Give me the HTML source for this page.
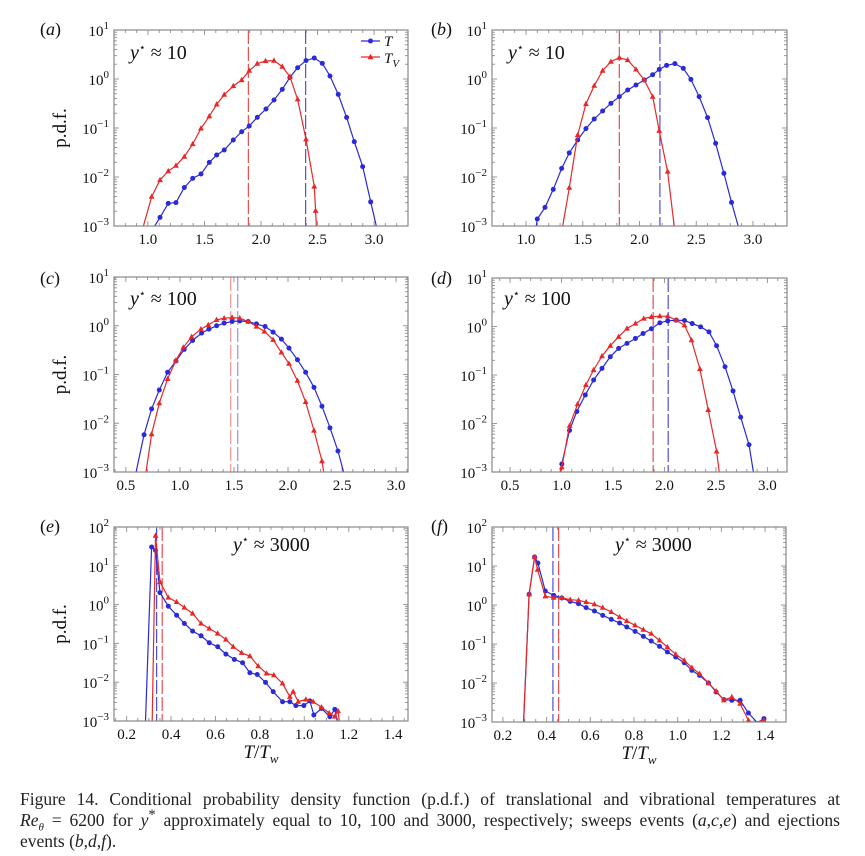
<!DOCTYPE html>
<html><head><meta charset="utf-8">
<style>
html,body{margin:0;padding:0;background:#fff;}
svg{display:block;}
text{font-family:"Liberation Serif",serif;fill:#111;}
#caption{position:absolute;left:20px;top:789px;width:820px;font-family:"Liberation Serif",serif;font-size:17.5px;line-height:21px;color:#222;}
#caption div{white-space:nowrap;}
#caption .j{text-align:justify;text-align-last:justify;white-space:normal;}
</style></head>
<body>
<svg id="fig" width="865" height="856" viewBox="0 0 865 856" xmlns="http://www.w3.org/2000/svg"></svg>
<div id="caption">
<div class="j">Figure 14. Conditional probability density function (p.d.f.) of translational and vibrational temperatures at</div>
<div class="j"><i>Re<sub style="font-size:11px;line-height:0">θ</sub></i> = 6200 for <i>y</i><sup style="line-height:0">*</sup> approximately equal to 10, 100 and 3000, respectively; sweeps events (<i>a</i>,<i>c</i>,<i>e</i>) and ejections</div>
<div>events (<i>b</i>,<i>d</i>,<i>f</i>).</div>
</div>
<script>
// ---- data: panel (a) ----
const aTx=[1.06,1.107,1.18,1.248,1.322,1.396,1.469,1.543,1.608,1.675,1.755,1.829,1.896,1.967,2.044,2.115,2.188,2.256,2.324,2.398,2.471,2.542,2.61,2.683,2.757,2.825,2.899,2.97,3.02];
const aTy=[0.001,0.0015,0.0029,0.003,0.0061,0.0094,0.0115,0.0199,0.0281,0.0356,0.0569,0.084,0.11,0.165,0.244,0.372,0.615,1.08,1.7,2.37,2.68,2.09,1.15,0.486,0.165,0.0526,0.0163,0.0031,0.001];
const aVx=[0.96,1.033,1.107,1.18,1.248,1.322,1.396,1.469,1.543,1.608,1.675,1.755,1.829,1.896,1.967,2.04,2.115,2.188,2.256,2.324,2.398,2.471,2.483,2.49];
const aVy=[0.001,0.00397,0.0087,0.0132,0.017,0.026,0.047,0.098,0.173,0.304,0.479,0.72,0.954,1.48,2.06,2.33,2.37,1.79,1.12,0.385,0.0587,0.0064,0.00205,0.001];
const aMeans=[2.395,1.888];
// ---- data: panel (b) ----
const bTx=[1.09,1.099,1.167,1.24,1.314,1.381,1.455,1.528,1.601,1.675,1.748,1.822,1.896,1.969,2.042,2.116,2.174,2.239,2.312,2.386,2.453,2.526,2.6,2.671,2.744,2.811,2.87];
const bTy=[0.001,0.00139,0.0024,0.0056,0.015,0.031,0.057,0.097,0.153,0.222,0.319,0.436,0.597,0.755,0.955,1.22,1.57,1.9,2.06,1.65,0.98,0.436,0.163,0.0487,0.0119,0.00304,0.001];
const bVx=[1.323,1.381,1.455,1.528,1.601,1.675,1.748,1.822,1.896,1.969,2.042,2.116,2.174,2.248,2.306];
const bVy=[0.001,0.00605,0.072,0.309,0.731,1.48,2.26,2.72,2.44,1.57,0.955,0.436,0.088,0.0129,0.001];
const bMeans=[2.18,1.822];
// ---- data: panel (c) ----
const cTx=[0.594,0.668,0.738,0.809,0.886,0.963,1.04,1.117,1.2,1.268,1.339,1.409,1.483,1.554,1.631,1.708,1.788,1.862,1.939,2.009,2.087,2.163,2.24,2.314,2.388,2.462,2.514];
const cTy=[0.001,0.0058,0.0197,0.048,0.111,0.189,0.327,0.499,0.706,0.851,1.0,1.13,1.22,1.26,1.22,1.09,0.964,0.74,0.532,0.348,0.201,0.111,0.0545,0.0223,0.00805,0.0027,0.001];
const cVx=[0.686,0.738,0.809,0.886,0.963,1.031,1.108,1.194,1.262,1.339,1.409,1.483,1.554,1.631,1.708,1.782,1.862,1.939,2.009,2.087,2.163,2.24,2.314,2.33];
const cVy=[0.001,0.00598,0.0258,0.081,0.195,0.359,0.593,0.851,1.04,1.32,1.43,1.47,1.43,1.22,0.964,0.762,0.515,0.284,0.167,0.0747,0.0274,0.0071,0.00167,0.001];
const cMeans=[1.535,1.47];
// ---- data: panel (d) ----
const dTx=[0.987,1.003,1.078,1.149,1.231,1.312,1.393,1.474,1.555,1.636,1.718,1.792,1.873,1.955,2.032,2.114,2.195,2.269,2.351,2.432,2.506,2.588,2.666,2.74,2.821,2.864];
const dTy=[0.001,0.00146,0.0072,0.0177,0.0388,0.079,0.137,0.238,0.353,0.448,0.567,0.718,0.9,1.19,1.31,1.35,1.33,1.15,0.985,0.776,0.401,0.148,0.0469,0.0135,0.00365,0.001];
const dVx=[0.987,1.003,1.078,1.156,1.237,1.312,1.393,1.474,1.555,1.636,1.718,1.799,1.873,1.955,2.032,2.114,2.195,2.263,2.344,2.425,2.506,2.532];
const dVy=[0.001,0.00125,0.00895,0.025,0.0624,0.127,0.245,0.401,0.614,0.91,1.15,1.46,1.58,1.63,1.63,1.35,1.06,0.523,0.133,0.0191,0.00266,0.001];
const dMeans=[2.036,1.89];
// ---- data: panel (e) ----
const eTx=[0.285,0.3125,0.33,0.35,0.3875,0.425,0.46,0.497,0.535,0.572,0.61,0.647,0.685,0.722,0.755,0.788,0.8255,0.86,0.902,0.935,0.962,0.998,1.025,1.043,1.0775,1.115,1.1375,1.148];
const eTy=[0.001,30.5,25,2.04,0.91,0.533,0.326,0.207,0.157,0.104,0.0818,0.053,0.0386,0.0317,0.0175,0.0158,0.0099,0.0057,0.00314,0.00314,0.0025,0.0025,0.0033,0.00143,0.0021,0.00129,0.002,0.001];
const eVx=[0.315,0.33,0.35,0.3875,0.425,0.46,0.497,0.535,0.572,0.61,0.647,0.68,0.7175,0.755,0.7925,0.83,0.863,0.902,0.935,0.95,0.9725,1.007,1.04,1.0775,1.112,1.1375,1.152,1.157];
const eVy=[0.001,60,3.85,1.52,1.17,0.84,0.59,0.326,0.242,0.18,0.126,0.082,0.0573,0.047,0.026,0.0168,0.0152,0.0093,0.0042,0.0057,0.00315,0.0036,0.00315,0.00225,0.0016,0.0013,0.0018,0.001];
const eMeans=[0.335,0.36];
// ---- data: panel (f) ----
const fTx=[0.2945,0.32,0.345,0.36,0.394,0.432,0.47,0.508,0.546,0.581,0.619,0.657,0.696,0.734,0.767,0.805,0.843,0.879,0.917,0.953,0.991,1.03,1.065,1.1,1.141,1.176,1.212,1.248,1.286,1.324,1.362,1.37,1.395,1.405];
const fTy=[0.001,1.88,17,11.9,2.29,1.77,1.51,1.24,1.08,0.855,0.7,0.543,0.429,0.345,0.273,0.211,0.157,0.119,0.087,0.0624,0.0464,0.0332,0.0211,0.0157,0.01,0.00588,0.00374,0.0036,0.0036,0.0017,0.001,0.001,0.00122,0.001];
const fVx=[0.2945,0.32,0.345,0.3586,0.394,0.432,0.47,0.508,0.546,0.581,0.619,0.657,0.696,0.734,0.767,0.805,0.843,0.879,0.917,0.953,0.991,1.03,1.065,1.1,1.141,1.176,1.212,1.248,1.286,1.324,1.335,1.36,1.395,1.405];
const fVy=[0.001,1.88,17,8.05,1.67,1.54,1.54,1.37,1.32,1.19,1.04,0.855,0.663,0.492,0.389,0.301,0.233,0.184,0.124,0.0837,0.0544,0.0381,0.0247,0.0173,0.01,0.0062,0.0036,0.0044,0.00295,0.0011,0.001,0.001,0.0011,0.001];
const fMeans=[0.429,0.455];
// ---- axis tick values ----
const xTicksAB=[1.0,1.5,2.0,2.5,3.0];
const xTicksCD=[0.5,1.0,1.5,2.0,2.5,3.0];
const xTicksEF=[0.2,0.4,0.6,0.8,1.0,1.2,1.4];
const yDecABCD=[-3,-2,-1,0,1];
const yDecEF=[-3,-2,-1,0,1,2];

const NS="http://www.w3.org/2000/svg";
const svg=document.getElementById('fig');
const BLUE="#2a2ad8", RED="#e62828";
function mk(tag,attrs,parent){const e=document.createElementNS(NS,tag);for(const k in attrs)e.setAttribute(k,attrs[k]);(parent||svg).appendChild(e);return e;}

const panels=[
 {id:'a',box:[114,408,30,226],xd:[0.7,3.3],yd:[-3,1],xt:xTicksAB,yt:yDecABCD,minor:0.1,T:[aTx,aTy],V:[aVx,aVy],m:aMeans,lab:[40,35],ann:[130,59,'10'],ylab:true,legend:true,fade:false},
 {id:'b',box:[492,787,30,226],xd:[0.7,3.3],yd:[-3,1],xt:xTicksAB,yt:yDecABCD,minor:0.1,T:[bTx,bTy],V:[bVx,bVy],m:bMeans,lab:[431,35],ann:[508,59,'10'],ylab:false,fade:false},
 {id:'c',box:[114,408,277,472],xd:[0.39,3.11],yd:[-3,1],xt:xTicksCD,yt:yDecABCD,minor:0.1,T:[cTx,cTy],V:[cVx,cVy],m:cMeans,lab:[40,284],ann:[130,305,'100'],ylab:true,fade:true},
 {id:'d',box:[492,787,278,472],xd:[0.325,3.19],yd:[-3,1],xt:xTicksCD,yt:yDecABCD,minor:0.1,T:[dTx,dTy],V:[dVx,dVy],m:dMeans,lab:[431,284],ann:[504,305,'100'],ylab:false,fade:false},
 {id:'e',box:[114,408,527,721],xd:[0.143,1.467],yd:[-3,2],xt:xTicksEF,yt:yDecEF,minor:0.05,T:[eTx,eTy],V:[eVx,eVy],m:eMeans,lab:[40,532],ann:[233,551,'3000'],ylab:true,xlab:true,fade:false},
 {id:'f',box:[492,786,527,722],xd:[0.15,1.496],yd:[-3,2],xt:xTicksEF,yt:yDecEF,minor:0.05,T:[fTx,fTy],V:[fVx,fVy],m:fMeans,lab:[431,532],ann:[615,551,'3000'],ylab:false,xlab:true,fade:false}
];

panels.forEach(p=>{
  const [x0,x1,y0,y1]=p.box;
  const sx=v=>x0+(v-p.xd[0])/(p.xd[1]-p.xd[0])*(x1-x0);
  const sy=v=>y1-(Math.log10(v)-p.yd[0])/(p.yd[1]-p.yd[0])*(y1-y0);
  const g=mk('g',{});
  
  
  const cp=mk('clipPath',{id:'clip'+p.id},g);
  mk('rect',{x:x0,y:y0,width:x1-x0,height:y1-y0},cp);
  const tg=mk('g',{stroke:'#999','stroke-width':1},g);
  
  
  const n0=Math.ceil(p.xd[0]/p.minor-1e-6), n1=Math.floor(p.xd[1]/p.minor+1e-6);
  for(let i=n0;i<=n1;i++){const v=i*p.minor;const X=sx(v);
    const maj=p.xt.some(t=>Math.abs(t-v)<1e-6);const L=maj?5:3;
    mk('line',{x1:X,x2:X,y1:y1,y2:y1-L},tg);mk('line',{x1:X,x2:X,y1:y0,y2:y0+L},tg);}
  for(let d=p.yd[0];d<p.yd[1];d++){for(let k=1;k<10;k++){const Y=sy(k*Math.pow(10,d));const L=k==1?5:3;
    mk('line',{x1:x0,x2:x0+L,y1:Y,y2:Y},tg);mk('line',{x1:x1,x2:x1-L,y1:Y,y2:Y},tg);}}
  p.xt.forEach(v=>{const t=mk('text',{x:sx(v),y:y1+18,'font-size':15,'text-anchor':'middle'},g);t.textContent=v.toFixed(1);
    
    });
  p.yt.forEach(d=>{const t=mk('text',{x:x0-5,y:sy(Math.pow(10,d))+6,'font-size':15,'text-anchor':'end'},g);
    
    
    const a=mk('tspan',{},t);a.textContent='10';const s=mk('tspan',{dy:-7,'font-size':11},t);s.textContent=(d<0?'−'+(-d):''+d);});
  const cols=[BLUE,RED];
  p.m.forEach((v,i)=>{const l=mk('line',{x1:sx(v),x2:sx(v),y1:y0,y2:y1,stroke:cols[i],'stroke-width':1.1,'stroke-dasharray':'14,3',opacity:p.fade?0.55:0.9},g);
    
    });
  const cg=mk('g',{'clip-path':'url(#clip'+p.id+')'},g);
  [[p.T,BLUE,'circle'],[p.V,RED,'tri']].forEach(([s,c,mkType],si)=>{
    const [xs,ys]=s;
    const pts=xs.map((x,i)=>sx(x).toFixed(1)+','+sy(ys[i]).toFixed(1)).join(' ');
    const pl=mk('polyline',{points:pts,fill:'none',stroke:c,'stroke-width':1.2},cg);
    
    
    xs.forEach((x,i)=>{ if(ys[i]<=Math.pow(10,p.yd[0])*1.05) return;
      const X=sx(x),Y=sy(ys[i]);let m;
      if(mkType=='circle') m=mk('circle',{cx:X,cy:Y,r:2.5,fill:c},cg);
      else m=mk('polygon',{points:`${X},${Y-3.2} ${X-2.9},${Y+2.1} ${X+2.9},${Y+2.1}`,fill:c},cg);
      
      });
  });
  const fr=mk('rect',{x:x0,y:y0,width:x1-x0,height:y1-y0,fill:'none',stroke:'#888','stroke-width':1.2},g);
  
  
  const pl=mk('text',{x:p.lab[0],y:p.lab[1],'font-size':18},g);
  
  
  pl.innerHTML='(<tspan font-style="italic">'+p.id+'</tspan>)';
  const an=mk('text',{x:p.ann[0],y:p.ann[1],'font-size':20},g);
  
  
  an.innerHTML='<tspan font-style="italic">y</tspan><tspan dy="-8" font-size="11">⋆</tspan><tspan dy="8"> ≈ '+p.ann[2]+'</tspan>';
  if(p.ylab){const t=mk('text',{x:0,y:0,'font-size':19,'text-anchor':'middle',transform:`translate(66,${(y0+y1)/2}) rotate(-90)`},g);t.textContent='p.d.f.';
    
    }
  if(p.xlab){const t=mk('text',{x:(x0+x1)/2,y:y1+37,'font-size':19,'text-anchor':'middle'},g);
    
    
    t.innerHTML='<tspan font-style="italic">T</tspan>/<tspan font-style="italic">T</tspan><tspan dy="5" font-size="13" font-style="italic">w</tspan>';}
  if(p.legend){
    const lg=mk('g',{},g);
    
    
    mk('line',{x1:361,x2:380,y1:41,y2:41,stroke:BLUE,'stroke-width':1.2},lg);
    mk('circle',{cx:370.5,cy:41,r:2.5,fill:BLUE},lg);
    const t1=mk('text',{x:384,y:46,'font-size':15,'font-style':'italic'},lg);t1.textContent='T';
    mk('line',{x1:361,x2:380,y1:57,y2:57,stroke:RED,'stroke-width':1.2},lg);
    mk('polygon',{points:'370.5,53.7 367.5,59.2 373.5,59.2',fill:RED},lg);
    const t2=mk('text',{x:384,y:63,'font-size':15,'font-style':'italic'},lg);t2.innerHTML='T<tspan dy="4" font-size="11">V</tspan>';
  }
});
</script>
</body></html>
